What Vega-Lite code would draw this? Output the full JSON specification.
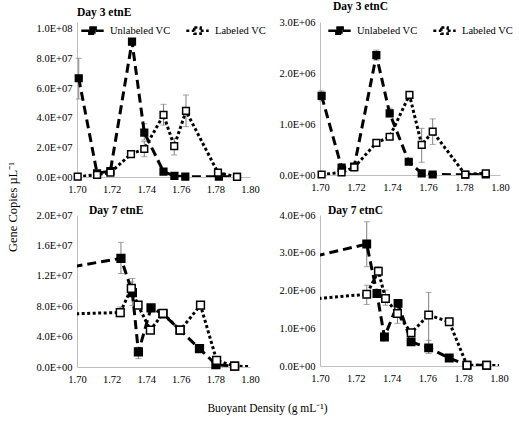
{
"$schema": "https://vega.github.io/schema/vega-lite/v6.json",
"padding": {"left": 6, "top": 0, "right": 0, "bottom": 5},
"title": {"text": "Gene Copies µL⁻¹", "orient": "left", "anchor": "middle", "frame": "bounds", "fontSize": 12.5, "fontWeight": "normal", "font": "Liberation Serif", "offset": 17},
"config": {
  "font": "Liberation Serif",
  "view": {"stroke": null},
  "axis": {"grid": false, "ticks": false, "domainColor": "#bfbfbf", "domainWidth": 1, "labelFont": "Liberation Serif", "labelFontSize": 10.5, "labelColor": "black", "labelPadding": 5, "labelOverlap": false, "labelFlush": false, "labelBound": false, "titleFont": "Liberation Serif", "titleFontWeight": "normal", "titleColor": "black", "titleFontSize": 11.5},
  "axisX": {"labelPadding": 7},
  "legend": {"labelFont": "Liberation Serif", "labelFontSize": 10.5, "labelColor": "black", "symbolType": "M-1.6,0H-0.45M0.45,0H1.6M-0.45,-0.45H0.45V0.45H-0.45Z", "symbolSize": 196, "symbolStrokeWidth": 2.5, "symbolStrokeColor": "black", "labelOffset": 9, "columnPadding": 10, "padding": 0},
  "title": {"font": "Liberation Serif", "fontSize": 11.5, "fontWeight": "bold", "color": "black", "anchor": "start"}
},
"datasets": {"all": [
{"panel":"TL","series":"Unlabeled VC","x":1.701,"y":66700000,"lo":52700000,"hi":80200000},
{"panel":"TL","series":"Unlabeled VC","x":1.7116,"y":2500000},
{"panel":"TL","series":"Unlabeled VC","x":1.7193,"y":4000000},
{"panel":"TL","series":"Unlabeled VC","x":1.7318,"y":91400000},
{"panel":"TL","series":"Unlabeled VC","x":1.7389,"y":30000000,"lo":25000000,"hi":36000000},
{"panel":"TL","series":"Unlabeled VC","x":1.750,"y":3600000},
{"panel":"TL","series":"Unlabeled VC","x":1.7563,"y":700000},
{"panel":"TL","series":"Unlabeled VC","x":1.7626,"y":200000},
{"panel":"TL","series":"Unlabeled VC","x":1.782,"y":200000},
{"panel":"TL","series":"Unlabeled VC","x":1.7925,"y":100000},
{"panel":"TL","series":"Labeled VC","x":1.7004,"y":200000},
{"panel":"TL","series":"Labeled VC","x":1.7116,"y":1500000},
{"panel":"TL","series":"Labeled VC","x":1.7193,"y":3000000},
{"panel":"TL","series":"Labeled VC","x":1.7312,"y":15500000},
{"panel":"TL","series":"Labeled VC","x":1.7389,"y":18900000,"lo":13700000,"hi":23900000},
{"panel":"TL","series":"Labeled VC","x":1.750,"y":41900000,"lo":35100000,"hi":49100000},
{"panel":"TL","series":"Labeled VC","x":1.7562,"y":20900000,"lo":14900000,"hi":26100000},
{"panel":"TL","series":"Labeled VC","x":1.763,"y":44600000,"lo":34000000,"hi":55400000},
{"panel":"TL","series":"Labeled VC","x":1.7815,"y":2900000},
{"panel":"TL","series":"Labeled VC","x":1.7925,"y":100000},
{"panel":"TR","series":"Unlabeled VC","x":1.7009,"y":1550000,"lo":1450000,"hi":1650000},
{"panel":"TR","series":"Unlabeled VC","x":1.712,"y":145000},
{"panel":"TR","series":"Unlabeled VC","x":1.719,"y":165000},
{"panel":"TR","series":"Unlabeled VC","x":1.7313,"y":2350000,"lo":2250000,"hi":2450000},
{"panel":"TR","series":"Unlabeled VC","x":1.7387,"y":1210000,"lo":1140000,"hi":1310000},
{"panel":"TR","series":"Unlabeled VC","x":1.7493,"y":260000},
{"panel":"TR","series":"Unlabeled VC","x":1.7565,"y":33000},
{"panel":"TR","series":"Unlabeled VC","x":1.7626,"y":10000},
{"panel":"TR","series":"Unlabeled VC","x":1.7807,"y":5000},
{"panel":"TR","series":"Unlabeled VC","x":1.7921,"y":10000},
{"panel":"TR","series":"Labeled VC","x":1.7009,"y":10000},
{"panel":"TR","series":"Labeled VC","x":1.712,"y":50000},
{"panel":"TR","series":"Labeled VC","x":1.719,"y":150000},
{"panel":"TR","series":"Labeled VC","x":1.7313,"y":630000},
{"panel":"TR","series":"Labeled VC","x":1.7387,"y":750000},
{"panel":"TR","series":"Labeled VC","x":1.7497,"y":1570000},
{"panel":"TR","series":"Labeled VC","x":1.7565,"y":590000,"lo":249000,"hi":915000},
{"panel":"TR","series":"Labeled VC","x":1.7626,"y":850000,"lo":600000,"hi":1100000},
{"panel":"TR","series":"Labeled VC","x":1.7807,"y":10000},
{"panel":"TR","series":"Labeled VC","x":1.7921,"y":33000},
{"panel":"BL","series":"Unlabeled VC","x":1.69,"y":12900000},
{"panel":"BL","series":"Unlabeled VC","x":1.7254,"y":14300000,"lo":12300000,"hi":16400000},
{"panel":"BL","series":"Unlabeled VC","x":1.732,"y":9800000,"lo":8100000,"hi":11650000},
{"panel":"BL","series":"Unlabeled VC","x":1.7355,"y":1980000,"lo":1100000,"hi":2600000},
{"panel":"BL","series":"Unlabeled VC","x":1.7428,"y":7780000},
{"panel":"BL","series":"Unlabeled VC","x":1.7497,"y":7000000,"lo":6600000,"hi":7500000},
{"panel":"BL","series":"Unlabeled VC","x":1.7596,"y":4840000},
{"panel":"BL","series":"Unlabeled VC","x":1.7708,"y":2420000},
{"panel":"BL","series":"Unlabeled VC","x":1.7803,"y":320000},
{"panel":"BL","series":"Unlabeled VC","x":1.7911,"y":100000},
{"panel":"BL","series":"Labeled VC","x":1.69,"y":6950000},
{"panel":"BL","series":"Labeled VC","x":1.725,"y":7170000,"lo":6600000,"hi":7900000},
{"panel":"BL","series":"Labeled VC","x":1.7314,"y":10340000,"lo":9680000,"hi":11200000},
{"panel":"BL","series":"Labeled VC","x":1.7353,"y":8130000},
{"panel":"BL","series":"Labeled VC","x":1.7424,"y":4840000},
{"panel":"BL","series":"Labeled VC","x":1.7497,"y":7040000},
{"panel":"BL","series":"Labeled VC","x":1.7596,"y":4840000},
{"panel":"BL","series":"Labeled VC","x":1.7714,"y":8130000},
{"panel":"BL","series":"Labeled VC","x":1.7807,"y":880000},
{"panel":"BL","series":"Labeled VC","x":1.7911,"y":100000},
{"panel":"BL","series":"Labeled VC","x":1.81,"y":0},
{"panel":"BR","series":"Unlabeled VC","x":1.69,"y":2830000},
{"panel":"BR","series":"Unlabeled VC","x":1.7261,"y":3230000,"lo":2630000,"hi":3820000},
{"panel":"BR","series":"Unlabeled VC","x":1.7318,"y":1920000},
{"panel":"BR","series":"Unlabeled VC","x":1.736,"y":770000},
{"panel":"BR","series":"Unlabeled VC","x":1.7436,"y":1660000},
{"panel":"BR","series":"Unlabeled VC","x":1.7509,"y":640000},
{"panel":"BR","series":"Unlabeled VC","x":1.7607,"y":480000,"lo":330000,"hi":680000},
{"panel":"BR","series":"Unlabeled VC","x":1.7722,"y":210000},
{"panel":"BR","series":"Unlabeled VC","x":1.7821,"y":20000},
{"panel":"BR","series":"Unlabeled VC","x":1.7931,"y":20000},
{"panel":"BR","series":"Labeled VC","x":1.69,"y":1750000},
{"panel":"BR","series":"Labeled VC","x":1.7261,"y":1900000,"lo":1630000,"hi":2140000},
{"panel":"BR","series":"Labeled VC","x":1.7326,"y":2510000,"lo":2390000,"hi":2630000},
{"panel":"BR","series":"Labeled VC","x":1.7366,"y":1790000,"lo":1610000,"hi":2010000},
{"panel":"BR","series":"Labeled VC","x":1.7433,"y":1390000,"lo":1130000,"hi":1610000},
{"panel":"BR","series":"Labeled VC","x":1.7509,"y":880000},
{"panel":"BR","series":"Labeled VC","x":1.7607,"y":1350000,"lo":460000,"hi":1950000},
{"panel":"BR","series":"Labeled VC","x":1.7722,"y":1170000},
{"panel":"BR","series":"Labeled VC","x":1.7821,"y":20000},
{"panel":"BR","series":"Labeled VC","x":1.7931,"y":20000},
{"panel":"BR","series":"Labeled VC","x":1.81,"y":0}
]},
"bounds": "flush",
"columns": 2,
"spacing": {"row": 38, "column": 70},
"resolve": {"scale": {"x": "independent", "y": "independent", "strokeDash": "independent", "fill": "independent"}},
"concat": [
{
 "width": 173, "height": 155,
 "data": {"name": "all"},
 "title": {"text": "Day 3 etnE", "offset": 4, "dx": 0, "frame": "group"},
 "transform": [{"filter": "datum.panel == 'TL'"}],
 "encoding": {"x": {"field": "x", "type": "quantitative", "title": null, "scale": {"domain": [1.7, 1.8], "nice": false, "zero": false}, "axis": {"values": [1.7, 1.72, 1.74, 1.76, 1.78, 1.8], "format": ".2f", "labelOverlap": false}}},
 "layer": [
  {"transform": [{"filter": "isValid(datum.lo)"}], "mark": {"type": "rule", "color": "#808080", "strokeWidth": 1}, "encoding": {"y": {"field": "lo", "type": "quantitative", "title": null, "scale": {"domain": [0, 104700000], "nice": false}, "axis": {"values": [0, 20000000, 40000000, 60000000, 80000000, 100000000], "labelOverlap": false, "labelExpr": "datum.value == 0 ? '0.0E+00' : format(datum.value / pow(10, floor(log(datum.value) / LN10 + 1e-9)), '.1f') + 'E+' + (floor(log(datum.value) / LN10 + 1e-9) < 10 ? '0' : '') + floor(log(datum.value) / LN10 + 1e-9)"}}, "y2": {"field": "hi"}}},
  {"transform": [{"filter": "isValid(datum.lo)"}], "mark": {"type": "tick", "orient": "horizontal", "color": "#808080", "size": 6, "thickness": 1}, "encoding": {"y": {"field": "lo", "type": "quantitative", "title": null, "axis": {"values": [0, 20000000, 40000000, 60000000, 80000000, 100000000], "labelOverlap": false, "labelExpr": "datum.value == 0 ? '0.0E+00' : format(datum.value / pow(10, floor(log(datum.value) / LN10 + 1e-9)), '.1f') + 'E+' + (floor(log(datum.value) / LN10 + 1e-9) < 10 ? '0' : '') + floor(log(datum.value) / LN10 + 1e-9)"}}}},
  {"transform": [{"filter": "isValid(datum.lo)"}], "mark": {"type": "tick", "orient": "horizontal", "color": "#808080", "size": 6, "thickness": 1}, "encoding": {"y": {"field": "hi", "type": "quantitative", "title": null, "axis": {"values": [0, 20000000, 40000000, 60000000, 80000000, 100000000], "labelOverlap": false, "labelExpr": "datum.value == 0 ? '0.0E+00' : format(datum.value / pow(10, floor(log(datum.value) / LN10 + 1e-9)), '.1f') + 'E+' + (floor(log(datum.value) / LN10 + 1e-9) < 10 ? '0' : '') + floor(log(datum.value) / LN10 + 1e-9)"}}}},
  {"mark": {"type": "line", "color": "black", "strokeWidth": 3, "clip": true}, "encoding": {"y": {"field": "y", "type": "quantitative", "title": null, "axis": {"values": [0, 20000000, 40000000, 60000000, 80000000, 100000000], "labelOverlap": false, "labelExpr": "datum.value == 0 ? '0.0E+00' : format(datum.value / pow(10, floor(log(datum.value) / LN10 + 1e-9)), '.1f') + 'E+' + (floor(log(datum.value) / LN10 + 1e-9) < 10 ? '0' : '') + floor(log(datum.value) / LN10 + 1e-9)"}}, "order": {"field": "x"}, "strokeDash": {"field": "series", "type": "nominal", "scale": {"domain": ["Unlabeled VC", "Labeled VC"], "range": [[9, 5], [3, 2.5]]}, "legend": {"title": null, "orient": "none", "legendX": 7, "legendY": 0, "direction": "horizontal", "encode": {"symbols": {"update": {"fill": {"signal": "datum.value == 'Unlabeled VC' ? 'black' : 'white'"}, "stroke": {"value": "black"}, "strokeWidth": {"value": 2.5}, "opacity": {"value": 1}}}}}}}},
  {"transform": [{"filter": "datum.x >= 1.7 && datum.x <= 1.8"}], "mark": {"type": "point", "shape": "square", "size": 45, "strokeWidth": 1.5, "stroke": "black", "opacity": 1}, "encoding": {"y": {"field": "y", "type": "quantitative", "title": null, "axis": {"values": [0, 20000000, 40000000, 60000000, 80000000, 100000000], "labelOverlap": false, "labelExpr": "datum.value == 0 ? '0.0E+00' : format(datum.value / pow(10, floor(log(datum.value) / LN10 + 1e-9)), '.1f') + 'E+' + (floor(log(datum.value) / LN10 + 1e-9) < 10 ? '0' : '') + floor(log(datum.value) / LN10 + 1e-9)"}}, "fill": {"field": "series", "type": "nominal", "scale": {"domain": ["Unlabeled VC", "Labeled VC"], "range": ["black", "white"]}, "legend": null}}}
 ]
},
{
 "width": 180, "height": 153,
 "data": {"name": "all"},
 "title": {"text": "Day 3 etnC", "offset": 5, "dx": 13, "frame": "group"},
 "transform": [{"filter": "datum.panel == 'TR'"}],
 "encoding": {"x": {"field": "x", "type": "quantitative", "title": null, "scale": {"domain": [1.7, 1.8], "nice": false, "zero": false}, "axis": {"values": [1.7, 1.72, 1.74, 1.76, 1.78, 1.8], "format": ".2f", "labelOverlap": false}}},
 "layer": [
  {"transform": [{"filter": "isValid(datum.lo)"}], "mark": {"type": "rule", "color": "#808080", "strokeWidth": 1}, "encoding": {"y": {"field": "lo", "type": "quantitative", "title": null, "scale": {"domain": [0, 3000000], "nice": false}, "axis": {"values": [0, 1000000, 2000000, 3000000], "labelOverlap": false, "labelExpr": "datum.value == 0 ? '0.0E+00' : format(datum.value / pow(10, floor(log(datum.value) / LN10 + 1e-9)), '.1f') + 'E+' + (floor(log(datum.value) / LN10 + 1e-9) < 10 ? '0' : '') + floor(log(datum.value) / LN10 + 1e-9)"}}, "y2": {"field": "hi"}}},
  {"transform": [{"filter": "isValid(datum.lo)"}], "mark": {"type": "tick", "orient": "horizontal", "color": "#808080", "size": 6, "thickness": 1}, "encoding": {"y": {"field": "lo", "type": "quantitative", "title": null, "axis": {"values": [0, 1000000, 2000000, 3000000], "labelOverlap": false, "labelExpr": "datum.value == 0 ? '0.0E+00' : format(datum.value / pow(10, floor(log(datum.value) / LN10 + 1e-9)), '.1f') + 'E+' + (floor(log(datum.value) / LN10 + 1e-9) < 10 ? '0' : '') + floor(log(datum.value) / LN10 + 1e-9)"}}}},
  {"transform": [{"filter": "isValid(datum.lo)"}], "mark": {"type": "tick", "orient": "horizontal", "color": "#808080", "size": 6, "thickness": 1}, "encoding": {"y": {"field": "hi", "type": "quantitative", "title": null, "axis": {"values": [0, 1000000, 2000000, 3000000], "labelOverlap": false, "labelExpr": "datum.value == 0 ? '0.0E+00' : format(datum.value / pow(10, floor(log(datum.value) / LN10 + 1e-9)), '.1f') + 'E+' + (floor(log(datum.value) / LN10 + 1e-9) < 10 ? '0' : '') + floor(log(datum.value) / LN10 + 1e-9)"}}}},
  {"mark": {"type": "line", "color": "black", "strokeWidth": 3, "clip": true}, "encoding": {"y": {"field": "y", "type": "quantitative", "title": null, "axis": {"values": [0, 1000000, 2000000, 3000000], "labelOverlap": false, "labelExpr": "datum.value == 0 ? '0.0E+00' : format(datum.value / pow(10, floor(log(datum.value) / LN10 + 1e-9)), '.1f') + 'E+' + (floor(log(datum.value) / LN10 + 1e-9) < 10 ? '0' : '') + floor(log(datum.value) / LN10 + 1e-9)"}}, "order": {"field": "x"}, "strokeDash": {"field": "series", "type": "nominal", "scale": {"domain": ["Unlabeled VC", "Labeled VC"], "range": [[9, 5], [3, 2.5]]}, "legend": {"title": null, "orient": "none", "legendX": 11, "legendY": 0, "direction": "horizontal", "encode": {"symbols": {"update": {"fill": {"signal": "datum.value == 'Unlabeled VC' ? 'black' : 'white'"}, "stroke": {"value": "black"}, "strokeWidth": {"value": 2.5}, "opacity": {"value": 1}}}}}}}},
  {"transform": [{"filter": "datum.x >= 1.7 && datum.x <= 1.8"}], "mark": {"type": "point", "shape": "square", "size": 45, "strokeWidth": 1.5, "stroke": "black", "opacity": 1}, "encoding": {"y": {"field": "y", "type": "quantitative", "title": null, "axis": {"values": [0, 1000000, 2000000, 3000000], "labelOverlap": false, "labelExpr": "datum.value == 0 ? '0.0E+00' : format(datum.value / pow(10, floor(log(datum.value) / LN10 + 1e-9)), '.1f') + 'E+' + (floor(log(datum.value) / LN10 + 1e-9) < 10 ? '0' : '') + floor(log(datum.value) / LN10 + 1e-9)"}}, "fill": {"field": "series", "type": "nominal", "scale": {"domain": ["Unlabeled VC", "Labeled VC"], "range": ["black", "white"]}, "legend": null}}}
 ]
},
{
 "width": 173, "height": 152,
 "data": {"name": "all"},
 "title": {"text": "Day 7 etnE", "offset": -6, "dx": 12, "frame": "group"},
 "transform": [{"filter": "datum.panel == 'BL'"}],
 "encoding": {"x": {"field": "x", "type": "quantitative", "title": "Buoyant Density (g mL⁻¹)", "scale": {"domain": [1.7, 1.8], "nice": false, "zero": false}, "axis": {"values": [1.7, 1.72, 1.74, 1.76, 1.78, 1.8], "format": ".2f", "labelOverlap": false, "titleX": 190, "titleY": 41, "titleBaseline": "middle", "titleAlign": "center"}}},
 "layer": [
  {"transform": [{"filter": "isValid(datum.lo)"}], "mark": {"type": "rule", "color": "#808080", "strokeWidth": 1}, "encoding": {"y": {"field": "lo", "type": "quantitative", "title": null, "scale": {"domain": [0, 20000000], "nice": false}, "axis": {"values": [0, 4000000, 8000000, 12000000, 16000000, 20000000], "labelOverlap": false, "labelExpr": "datum.value == 0 ? '0.0E+00' : format(datum.value / pow(10, floor(log(datum.value) / LN10 + 1e-9)), '.1f') + 'E+' + (floor(log(datum.value) / LN10 + 1e-9) < 10 ? '0' : '') + floor(log(datum.value) / LN10 + 1e-9)"}}, "y2": {"field": "hi"}}},
  {"transform": [{"filter": "isValid(datum.lo)"}], "mark": {"type": "tick", "orient": "horizontal", "color": "#808080", "size": 6, "thickness": 1}, "encoding": {"y": {"field": "lo", "type": "quantitative", "title": null, "axis": {"values": [0, 4000000, 8000000, 12000000, 16000000, 20000000], "labelOverlap": false, "labelExpr": "datum.value == 0 ? '0.0E+00' : format(datum.value / pow(10, floor(log(datum.value) / LN10 + 1e-9)), '.1f') + 'E+' + (floor(log(datum.value) / LN10 + 1e-9) < 10 ? '0' : '') + floor(log(datum.value) / LN10 + 1e-9)"}}}},
  {"transform": [{"filter": "isValid(datum.lo)"}], "mark": {"type": "tick", "orient": "horizontal", "color": "#808080", "size": 6, "thickness": 1}, "encoding": {"y": {"field": "hi", "type": "quantitative", "title": null, "axis": {"values": [0, 4000000, 8000000, 12000000, 16000000, 20000000], "labelOverlap": false, "labelExpr": "datum.value == 0 ? '0.0E+00' : format(datum.value / pow(10, floor(log(datum.value) / LN10 + 1e-9)), '.1f') + 'E+' + (floor(log(datum.value) / LN10 + 1e-9) < 10 ? '0' : '') + floor(log(datum.value) / LN10 + 1e-9)"}}}},
  {"mark": {"type": "line", "color": "black", "strokeWidth": 3, "clip": true}, "encoding": {"y": {"field": "y", "type": "quantitative", "title": null, "axis": {"values": [0, 4000000, 8000000, 12000000, 16000000, 20000000], "labelOverlap": false, "labelExpr": "datum.value == 0 ? '0.0E+00' : format(datum.value / pow(10, floor(log(datum.value) / LN10 + 1e-9)), '.1f') + 'E+' + (floor(log(datum.value) / LN10 + 1e-9) < 10 ? '0' : '') + floor(log(datum.value) / LN10 + 1e-9)"}}, "order": {"field": "x"}, "strokeDash": {"field": "series", "type": "nominal", "scale": {"domain": ["Unlabeled VC", "Labeled VC"], "range": [[9, 5], [3, 2.5]]}, "legend": null}}},
  {"transform": [{"filter": "datum.x >= 1.7 && datum.x <= 1.8"}], "mark": {"type": "point", "shape": "square", "size": 60, "strokeWidth": 1.5, "stroke": "black", "opacity": 1}, "encoding": {"y": {"field": "y", "type": "quantitative", "title": null, "axis": {"values": [0, 4000000, 8000000, 12000000, 16000000, 20000000], "labelOverlap": false, "labelExpr": "datum.value == 0 ? '0.0E+00' : format(datum.value / pow(10, floor(log(datum.value) / LN10 + 1e-9)), '.1f') + 'E+' + (floor(log(datum.value) / LN10 + 1e-9) < 10 ? '0' : '') + floor(log(datum.value) / LN10 + 1e-9)"}}, "fill": {"field": "series", "type": "nominal", "scale": {"domain": ["Unlabeled VC", "Labeled VC"], "range": ["black", "white"]}, "legend": null}}}
 ]
},
{
 "width": 179, "height": 151,
 "data": {"name": "all"},
 "title": {"text": "Day 7 etnC", "offset": -6, "dx": 8, "frame": "group"},
 "transform": [{"filter": "datum.panel == 'BR'"}],
 "encoding": {"x": {"field": "x", "type": "quantitative", "title": null, "scale": {"domain": [1.7, 1.8], "nice": false, "zero": false}, "axis": {"values": [1.7, 1.72, 1.74, 1.76, 1.78, 1.8], "format": ".2f", "labelOverlap": false}}},
 "layer": [
  {"transform": [{"filter": "isValid(datum.lo)"}], "mark": {"type": "rule", "color": "#808080", "strokeWidth": 1}, "encoding": {"y": {"field": "lo", "type": "quantitative", "title": null, "scale": {"domain": [0, 4000000], "nice": false}, "axis": {"values": [0, 1000000, 2000000, 3000000, 4000000], "labelOverlap": false, "labelExpr": "datum.value == 0 ? '0.0E+00' : format(datum.value / pow(10, floor(log(datum.value) / LN10 + 1e-9)), '.1f') + 'E+' + (floor(log(datum.value) / LN10 + 1e-9) < 10 ? '0' : '') + floor(log(datum.value) / LN10 + 1e-9)"}}, "y2": {"field": "hi"}}},
  {"transform": [{"filter": "isValid(datum.lo)"}], "mark": {"type": "tick", "orient": "horizontal", "color": "#808080", "size": 6, "thickness": 1}, "encoding": {"y": {"field": "lo", "type": "quantitative", "title": null, "axis": {"values": [0, 1000000, 2000000, 3000000, 4000000], "labelOverlap": false, "labelExpr": "datum.value == 0 ? '0.0E+00' : format(datum.value / pow(10, floor(log(datum.value) / LN10 + 1e-9)), '.1f') + 'E+' + (floor(log(datum.value) / LN10 + 1e-9) < 10 ? '0' : '') + floor(log(datum.value) / LN10 + 1e-9)"}}}},
  {"transform": [{"filter": "isValid(datum.lo)"}], "mark": {"type": "tick", "orient": "horizontal", "color": "#808080", "size": 6, "thickness": 1}, "encoding": {"y": {"field": "hi", "type": "quantitative", "title": null, "axis": {"values": [0, 1000000, 2000000, 3000000, 4000000], "labelOverlap": false, "labelExpr": "datum.value == 0 ? '0.0E+00' : format(datum.value / pow(10, floor(log(datum.value) / LN10 + 1e-9)), '.1f') + 'E+' + (floor(log(datum.value) / LN10 + 1e-9) < 10 ? '0' : '') + floor(log(datum.value) / LN10 + 1e-9)"}}}},
  {"mark": {"type": "line", "color": "black", "strokeWidth": 3, "clip": true}, "encoding": {"y": {"field": "y", "type": "quantitative", "title": null, "axis": {"values": [0, 1000000, 2000000, 3000000, 4000000], "labelOverlap": false, "labelExpr": "datum.value == 0 ? '0.0E+00' : format(datum.value / pow(10, floor(log(datum.value) / LN10 + 1e-9)), '.1f') + 'E+' + (floor(log(datum.value) / LN10 + 1e-9) < 10 ? '0' : '') + floor(log(datum.value) / LN10 + 1e-9)"}}, "order": {"field": "x"}, "strokeDash": {"field": "series", "type": "nominal", "scale": {"domain": ["Unlabeled VC", "Labeled VC"], "range": [[9, 5], [3, 2.5]]}, "legend": null}}},
  {"transform": [{"filter": "datum.x >= 1.7 && datum.x <= 1.8"}], "mark": {"type": "point", "shape": "square", "size": 55, "strokeWidth": 1.5, "stroke": "black", "opacity": 1}, "encoding": {"y": {"field": "y", "type": "quantitative", "title": null, "axis": {"values": [0, 1000000, 2000000, 3000000, 4000000], "labelOverlap": false, "labelExpr": "datum.value == 0 ? '0.0E+00' : format(datum.value / pow(10, floor(log(datum.value) / LN10 + 1e-9)), '.1f') + 'E+' + (floor(log(datum.value) / LN10 + 1e-9) < 10 ? '0' : '') + floor(log(datum.value) / LN10 + 1e-9)"}}, "fill": {"field": "series", "type": "nominal", "scale": {"domain": ["Unlabeled VC", "Labeled VC"], "range": ["black", "white"]}, "legend": null}}}
 ]
}
]
}
